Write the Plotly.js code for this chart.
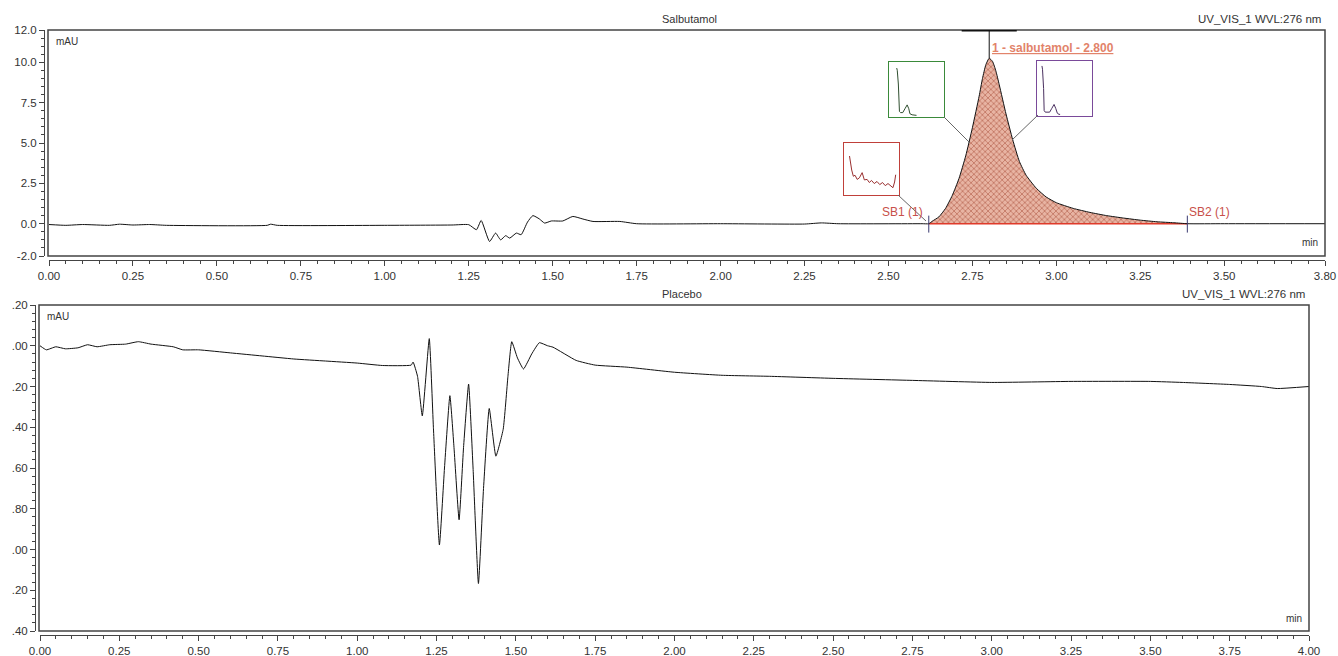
<!DOCTYPE html>
<html>
<head>
<meta charset="utf-8">
<script src="https://cdn.plot.ly/plotly-3.0.1.min.js"></script>
<style>html,body{margin:0;padding:0;background:#fff;}#chart{width:1338px;height:656px;}</style>
</head>
<body>
<div id="chart"></div>
<script>
// ---------- DATA ----------
// Salbutamol chromatogram (time in min, signal in mAU)
var salbTime = [0, 0.05, 0.10, 0.18, 0.21, 0.25, 0.30, 0.35, 0.65, 0.66, 0.68, 1.00, 1.20, 1.25, 1.273, 1.287, 1.312, 1.33, 1.345, 1.36, 1.372, 1.392, 1.406, 1.425, 1.441, 1.46, 1.476, 1.496, 1.53, 1.56, 1.59, 1.62, 1.70, 1.75, 2.00, 2.25, 2.30, 2.35, 2.60,
  2.62, 2.63, 2.65, 2.67, 2.69, 2.71, 2.73, 2.75, 2.77, 2.78, 2.79, 2.80, 2.81, 2.82, 2.83, 2.85, 2.87, 2.89, 2.91, 2.94, 2.97, 3.00, 3.05, 3.10, 3.15, 3.20, 3.25, 3.30, 3.35, 3.39,
  3.50, 3.80];
var salbSignal = [-0.05, -0.10, -0.05, -0.10, -0.03, -0.08, -0.05, -0.10, -0.10, -0.03, -0.10, -0.10, -0.08, -0.06, -0.37, 0.20, -1.10, -0.58, -1.00, -0.74, -0.89, -0.58, -0.68, 0.10, 0.50, 0.30, 0.04, 0.17, 0.17, 0.45, 0.29, 0.14, 0.14, 0.00, 0.00, -0.02, 0.05, 0.00, 0.00,
  0.00, 0.15, 0.42, 0.95, 1.75, 2.80, 4.20, 5.95, 7.90, 9.00, 9.85, 10.25, 10.05, 9.45, 8.60, 6.80, 5.20, 3.85, 3.00, 2.20, 1.65, 1.30, 0.95, 0.70, 0.50, 0.35, 0.22, 0.12, 0.06, 0.00,
  0.00, 0.00];
// Peak integration: baseline start / end, peak apex
var baselineTime = [2.62, 3.39];
var baselineSignal = [0, 0];
var peakApexTime = 2.80;
var peakApexSignal = 10.25;
var peakLabel = "1 - salbutamol - 2.800";

// Placebo chromatogram
var placTime = [0, 0.02, 0.05, 0.08, 0.12, 0.15, 0.18, 0.22, 0.27, 0.31, 0.35, 0.42, 0.45, 0.50, 0.60, 0.70, 0.80, 0.90, 1.00, 1.08, 1.17, 1.176, 1.19, 1.205, 1.227, 1.24, 1.259, 1.275, 1.292, 1.305, 1.321, 1.335, 1.351, 1.365, 1.382, 1.398, 1.416, 1.437, 1.46, 1.475, 1.487, 1.505, 1.524, 1.55, 1.574, 1.60, 1.617, 1.69, 1.75, 1.85, 2.00, 2.15, 2.30, 2.50, 2.75, 3.00, 3.25, 3.50, 3.60, 3.75, 3.85, 3.90, 4.00];
var placSignal = [0.00, -0.02, -0.005, -0.015, -0.01, 0.005, -0.005, 0.005, 0.008, 0.02, 0.008, -0.005, -0.02, -0.02, -0.035, -0.05, -0.065, -0.075, -0.085, -0.097, -0.095, -0.08, -0.15, -0.344, 0.035, -0.40, -0.978, -0.60, -0.245, -0.50, -0.854, -0.50, -0.188, -0.60, -1.167, -0.70, -0.308, -0.542, -0.41, -0.15, 0.02, -0.06, -0.114, -0.04, 0.015, 0.00, -0.007, -0.072, -0.095, -0.105, -0.13, -0.145, -0.15, -0.16, -0.17, -0.18, -0.175, -0.175, -0.18, -0.19, -0.20, -0.21, -0.20];

// UV spectra thumbnails (normalised)
var specRedX = [0.10, 0.12, 0.14, 0.17, 0.20, 0.24, 0.28, 0.33, 0.37, 0.42, 0.46, 0.50, 0.55, 0.60, 0.65, 0.70, 0.75, 0.80, 0.85, 0.89, 0.92, 0.94];
var specRedY = [0.75, 0.55, 0.48, 0.36, 0.38, 0.30, 0.33, 0.43, 0.29, 0.30, 0.24, 0.28, 0.22, 0.26, 0.20, 0.24, 0.18, 0.22, 0.17, 0.14, 0.25, 0.39];
var specGreenX = [0.14, 0.15, 0.17, 0.18, 0.19, 0.21, 0.25, 0.29, 0.33, 0.36, 0.38, 0.42, 0.46, 0.50];
var specGreenY = [0.89, 0.85, 0.60, 0.35, 0.10, 0.08, 0.08, 0.15, 0.22, 0.15, 0.06, 0.04, 0.03, 0.03];
var specPurpleX = [0.09, 0.10, 0.12, 0.13, 0.15, 0.19, 0.23, 0.27, 0.31, 0.34, 0.37, 0.40, 0.42];
var specPurpleY = [0.91, 0.85, 0.50, 0.10, 0.07, 0.07, 0.07, 0.14, 0.21, 0.14, 0.05, 0.03, 0.03];

// Tick labels
var topXTicks = [0, 0.25, 0.5, 0.75, 1.0, 1.25, 1.5, 1.75, 2.0, 2.25, 2.5, 2.75, 3.0, 3.25, 3.5, 3.8];
var topXLabels = ["0.00","0.25","0.50","0.75","1.00","1.25","1.50","1.75","2.00","2.25","2.50","2.75","3.00","3.25","3.50","3.80"];
var topYTicks = [-2, 0, 2.5, 5, 7.5, 10, 12];
var topYLabels = ["-2.0","0.0","2.5","5.0","7.5","10.0","12.0"];
var botXTicks = [0, 0.25, 0.5, 0.75, 1.0, 1.25, 1.5, 1.75, 2.0, 2.25, 2.5, 2.75, 3.0, 3.25, 3.5, 3.75, 4.0];
var botXLabels = ["0.00","0.25","0.50","0.75","1.00","1.25","1.50","1.75","2.00","2.25","2.50","2.75","3.00","3.25","3.50","3.75","4.00"];
var botYTicks = [0.2, 0, -0.2, -0.4, -0.6, -0.8, -1.0, -1.2, -1.4];
var botYLabels = [".20",".00",".20",".40",".60",".80",".00",".20",".40"];

// ---------- LAYOUT HELPERS ----------
var W = 1338, H = 656;
function X(px){ return px / W; }
function Y(py){ return 1 - py / H; }
var txt = '#333333';
var fnt = {family: 'Arial, "Liberation Sans", sans-serif', size: 11.5, color: txt};

var peakT = [], peakV = [];
for (var i = 0; i < salbTime.length; i++) {
  if (salbTime[i] >= baselineTime[0] && salbTime[i] <= baselineTime[1]) { peakT.push(salbTime[i]); peakV.push(salbSignal[i]); }
}

var traces = [
  {x: peakT, y: peakV, xaxis: 'x', yaxis: 'y', mode: 'none', fill: 'tozeroy', fillcolor: '#e6ae9c', line: {shape: 'spline', smoothing: 0.5},
   fillpattern: {shape: 'x', size: 4, solidity: 0.3, bgcolor: '#e8b4a3', fgcolor: '#b5624f'}, hoverinfo: 'skip'},
  {x: baselineTime, y: baselineSignal, xaxis: 'x', yaxis: 'y', mode: 'lines', line: {color: '#e03a2a', width: 1.5}},
  {x: salbTime, y: salbSignal, xaxis: 'x', yaxis: 'y', mode: 'lines', line: {color: '#111', width: 1, shape: 'spline', smoothing: 0.5}},
  {x: [peakApexTime, peakApexTime], y: [peakApexSignal, 12], xaxis: 'x', yaxis: 'y', mode: 'lines', line: {color: '#111', width: 1}},
  {x: placTime, y: placSignal, xaxis: 'x2', yaxis: 'y2', mode: 'lines', line: {color: '#111', width: 1, shape: 'spline', smoothing: 0.4}},
  {x: specRedX, y: specRedY, xaxis: 'x3', yaxis: 'y3', mode: 'lines', line: {color: '#9a2f2f', width: 1}},
  {x: specGreenX, y: specGreenY, xaxis: 'x4', yaxis: 'y4', mode: 'lines', line: {color: '#2f4f2f', width: 1}},
  {x: specPurpleX, y: specPurpleY, xaxis: 'x5', yaxis: 'y5', mode: 'lines', line: {color: '#4a3060', width: 1}}
];

function mainX(dom, rng, pos, tv, tt){
  return {domain: dom, range: rng, anchor: 'free', position: pos, showline: true, linecolor: '#444', linewidth: 1,
    ticks: 'outside', ticklen: 5, tickcolor: '#444', tickvals: tv, ticktext: tt, tickfont: fnt,
    minor: {ticks: 'outside', ticklen: 3, dtick: 0.05, tick0: 0, tickcolor: '#444', showgrid: false},
    showgrid: false, zeroline: false, fixedrange: true};
}
function mainY(dom, rng, pos, tv, tt, md){
  return {domain: dom, range: rng, anchor: 'free', position: pos, showline: true, linecolor: '#444', linewidth: 1,
    ticks: 'outside', ticklen: 5, tickcolor: '#444', tickvals: tv, ticktext: tt, tickfont: fnt,
    minor: {ticks: 'outside', ticklen: 3, dtick: md, tick0: 0, tickcolor: '#444', showgrid: false},
    showgrid: false, zeroline: false, fixedrange: true};
}
function inset(dom, col){
  return {domain: dom, range: [0, 1], showline: true, mirror: true, linecolor: col, linewidth: 1,
    showticklabels: false, ticks: '', showgrid: false, zeroline: false, fixedrange: true};
}

var layout = {
  width: W, height: H, autosize: false,
  margin: {l: 0, r: 0, t: 0, b: 0},
  paper_bgcolor: '#fff', plot_bgcolor: 'rgba(0,0,0,0)',
  showlegend: false, font: fnt,
  xaxis: mainX([X(49), X(1325)], [0, 3.8], Y(260), topXTicks, topXLabels),
  yaxis: mainY([Y(256), Y(30)], [-2, 12], X(44), topYTicks, topYLabels, 0.5),
  xaxis2: mainX([X(40), X(1309)], [0, 4], Y(635), botXTicks, botXLabels),
  yaxis2: mainY([Y(631), Y(305)], [-1.4, 0.2], X(35), botYTicks, botYLabels, 0.04),
  xaxis3: Object.assign(inset([X(844), X(899)], '#c0403a'), {anchor: 'y3'}),
  yaxis3: Object.assign(inset([Y(195), Y(143)], '#c0403a'), {anchor: 'x3'}),
  xaxis4: Object.assign(inset([X(889), X(944)], '#3a8a3a'), {anchor: 'y4'}),
  yaxis4: Object.assign(inset([Y(117), Y(62)], '#3a8a3a'), {anchor: 'x4'}),
  xaxis5: Object.assign(inset([X(1037), X(1092)], '#7a4a9a'), {anchor: 'y5'}),
  yaxis5: Object.assign(inset([Y(116), Y(61)], '#7a4a9a'), {anchor: 'x5'}),
  shapes: [
    // plot frames
    {type: 'rect', xref: 'paper', yref: 'paper', x0: X(48), x1: X(1325), y0: Y(256), y1: Y(30), line: {color: '#444', width: 1.5}},
    {type: 'rect', xref: 'paper', yref: 'paper', x0: X(39), x1: X(1309), y0: Y(631), y1: Y(305), line: {color: '#444', width: 1.5}},
    // peak apex bar
    {type: 'line', xref: 'x', yref: 'y', x0: peakApexTime - 0.082, x1: peakApexTime + 0.082, y0: 12, y1: 12, line: {color: '#111', width: 3}},
    // SB markers
    {type: 'line', xref: 'x', yref: 'y', x0: baselineTime[0], x1: baselineTime[0], y0: 0.5, y1: -0.55, line: {color: '#3a3a70', width: 1}},
    {type: 'line', xref: 'x', yref: 'y', x0: baselineTime[1], x1: baselineTime[1], y0: 0.5, y1: -0.55, line: {color: '#3a3a70', width: 1}},
    // spectrum connectors
    {type: 'line', xref: 'paper', yref: 'paper', x0: X(898), y0: Y(195), x1: X(926), y1: Y(221), line: {color: '#666', width: 1}},
    {type: 'line', xref: 'paper', yref: 'paper', x0: X(944), y0: Y(117), x1: X(970), y1: Y(143), line: {color: '#666', width: 1}},
    {type: 'line', xref: 'paper', yref: 'paper', x0: X(1038), y0: Y(115), x1: X(1012), y1: Y(140), line: {color: '#666', width: 1}}
  ],
  annotations: [
    {xref: 'paper', yref: 'paper', x: X(689), y: Y(19), text: 'Salbutamol', showarrow: false, xanchor: 'center', yanchor: 'middle', font: {family: fnt.family, size: 11, color: txt}},
    {xref: 'paper', yref: 'paper', x: X(1323), y: Y(19), text: 'UV_VIS_1 WVL:276 nm', showarrow: false, xanchor: 'right', yanchor: 'middle', font: {family: fnt.family, size: 11.5, color: txt}},
    {xref: 'paper', yref: 'paper', x: X(682), y: Y(294), text: 'Placebo', showarrow: false, xanchor: 'center', yanchor: 'middle', font: {family: fnt.family, size: 11, color: txt}},
    {xref: 'paper', yref: 'paper', x: X(1307), y: Y(294), text: 'UV_VIS_1 WVL:276 nm', showarrow: false, xanchor: 'right', yanchor: 'middle', font: {family: fnt.family, size: 11.5, color: txt}},
    {xref: 'paper', yref: 'paper', x: X(54), y: Y(42), text: 'mAU', showarrow: false, xanchor: 'left', yanchor: 'middle', font: {family: fnt.family, size: 10, color: txt}},
    {xref: 'paper', yref: 'paper', x: X(45), y: Y(317), text: 'mAU', showarrow: false, xanchor: 'left', yanchor: 'middle', font: {family: fnt.family, size: 10, color: txt}},
    {xref: 'paper', yref: 'paper', x: X(1320), y: Y(243), text: 'min', showarrow: false, xanchor: 'right', yanchor: 'middle', font: {family: fnt.family, size: 10, color: txt}},
    {xref: 'paper', yref: 'paper', x: X(1304), y: Y(618), text: 'min', showarrow: false, xanchor: 'right', yanchor: 'middle', font: {family: fnt.family, size: 10, color: txt}},
    {xref: 'x', yref: 'y', x: peakApexTime, y: 10.9, xshift: 1, text: '<u><b>' + peakLabel + '</b></u>', showarrow: false, xanchor: 'left', yanchor: 'middle', font: {family: fnt.family, size: 12, color: '#e2836a'}},
    {xref: 'x', yref: 'y', x: baselineTime[0], y: 0.7, xshift: -4, text: 'SB1 (1)', showarrow: false, xanchor: 'right', yanchor: 'middle', font: {family: fnt.family, size: 12, color: '#c8504a'}},
    {xref: 'x', yref: 'y', x: baselineTime[1], y: 0.7, xshift: 0, text: 'SB2 (1)', showarrow: false, xanchor: 'left', yanchor: 'middle', font: {family: fnt.family, size: 12, color: '#c8504a'}}
  ]
};

Plotly.newPlot('chart', traces, layout, {staticPlot: true, displayModeBar: false});
</script>
</body>
</html>
